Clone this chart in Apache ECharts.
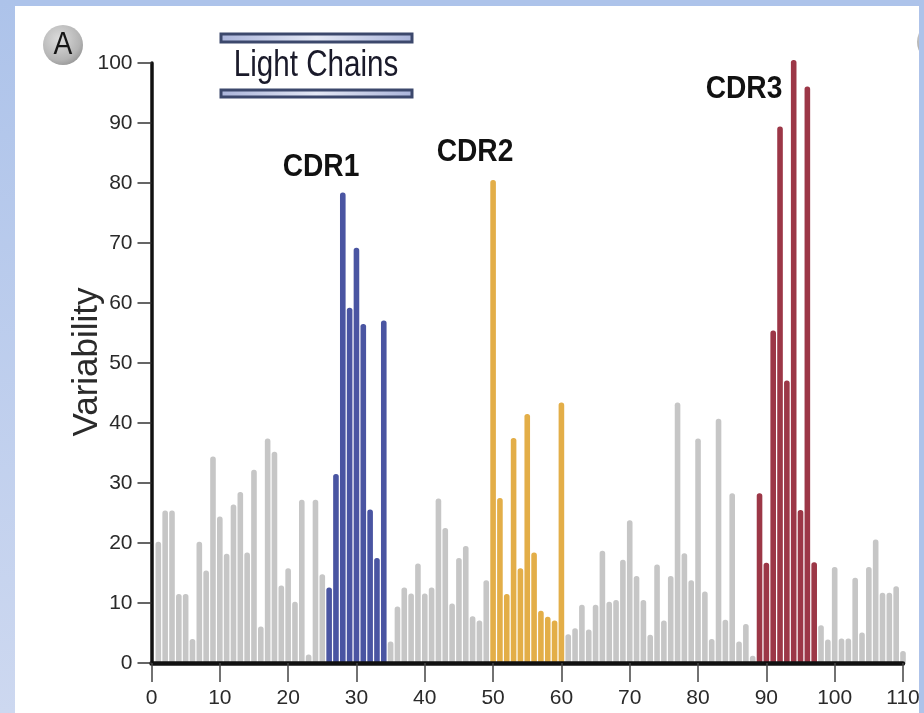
<!DOCTYPE html>
<html>
<head>
<meta charset="utf-8">
<script src="https://cdn.jsdelivr.net/npm/echarts@6/dist/echarts.min.js"></script>
<style>
html,body{margin:0;padding:0;background:#ffffff;}
#chart{width:924px;height:713px;}
</style>
</head>
<body>
<div id="chart"></div>
<script>
// Variability at residue positions 1..110
const variability = [
  20.2, 25.4, 25.4, 11.5, 11.5, 4.0, 20.2, 15.4, 34.4, 24.4,
  18.2, 26.4, 28.5, 18.4, 32.2, 6.1, 37.4, 35.2, 12.9, 15.8,
  10.2, 27.2, 1.4, 27.2, 14.8, 12.6, 31.5, 78.4, 59.2, 69.2,
  56.5, 25.6, 17.5, 57.1, 3.6, 9.4, 12.6, 11.6, 16.6, 11.6,
  12.6, 27.4, 22.5, 9.9, 17.5, 19.5, 7.8, 7.1, 13.8, 80.5,
  27.5, 11.5, 37.5, 15.8, 41.5, 18.4, 8.7, 7.7, 7.1, 43.4,
  4.8, 5.8, 9.7, 5.6, 9.7, 18.7, 10.2, 10.5, 17.2, 23.8,
  14.5, 10.5, 4.7, 16.4, 7.1, 14.5, 43.4, 18.3, 13.8, 37.4,
  11.9, 4.0, 40.7, 7.2, 28.3, 3.6, 6.5, 1.2, 28.3, 16.7,
  55.4, 89.4, 47.1, 100.5, 25.5, 96.1, 16.8, 6.3, 3.9, 16.0,
  4.1, 4.1, 14.2, 5.1, 16.0, 20.6, 11.7, 11.7, 12.8, 2.0
];
const cdr1 = [26, 34];
const cdr2 = [50, 60];
const cdr3 = [89, 97];
const xTicks = [0, 10, 20, 30, 40, 50, 60, 70, 80, 90, 100, 110];
const yTicks = [0, 10, 20, 30, 40, 50, 60, 70, 80, 90, 100];

const C_GRAY = '#c6c6c6', C_BLUE = '#4a55a2', C_ORANGE = '#e3ae48', C_RED = '#9c3747';
function colorFor(p) {
  if (p >= cdr1[0] && p <= cdr1[1]) return C_BLUE;
  if (p >= cdr2[0] && p <= cdr2[1]) return C_ORANGE;
  if (p >= cdr3[0] && p <= cdr3[1]) return C_RED;
  return C_GRAY;
}
const barData = variability.map((v, i) => ({
  value: [i + 1, v],
  itemStyle: { color: colorFor(i + 1) }
}));

const FONT = '"Liberation Sans", Arial, Helvetica, sans-serif';
const chart = echarts.init(document.getElementById('chart'), null, { renderer: 'canvas' });

const centered = { textAlign: 'center', textVerticalAlign: 'middle', align: 'center', verticalAlign: 'middle' };

chart.setOption({
  animation: false,
  backgroundColor: '#ffffff',
  grid: { left: 151.5, right: 21, top: 63, bottom: 50, containLabel: false },
  xAxis: {
    type: 'value', min: xTicks[0], max: xTicks[xTicks.length - 1], interval: 10, z: 10,
    axisLine: { show: true, onZero: false, lineStyle: { color: '#111', width: 4.5 } },
    axisTick: { show: true, length: 19, lineStyle: { color: '#444', width: 1.5 } },
    axisLabel: { color: '#2a2a2a', fontSize: 21, fontFamily: FONT, margin: 25 },
    splitLine: { show: false }
  },
  yAxis: {
    type: 'value', min: yTicks[0], max: yTicks[yTicks.length - 1], interval: 10, z: 10,
    axisLine: { show: true, lineStyle: { color: '#111', width: 3.5 } },
    axisTick: { show: true, length: 14, lineStyle: { color: '#333', width: 1.5 } },
    axisLabel: { color: '#2a2a2a', fontSize: 21, fontFamily: FONT, margin: 19 },
    splitLine: { show: false }
  },
  series: [{
    type: 'bar',
    data: barData,
    barWidth: 5.6,
    clip: false,
    itemStyle: { borderRadius: [2.6, 2.6, 0, 0] },
    z: 1
  }],
  graphic: [
    // blue frame strips
    { type: 'rect', z: 100, shape: { x: 0, y: 0, width: 924, height: 6 }, style: { fill: '#adc3ea' } },
    { type: 'rect', z: 100, shape: { x: 0, y: 0, width: 15, height: 713 },
      style: { fill: new echarts.graphic.LinearGradient(0, 0, 0, 1, [{ offset: 0, color: '#adc3ea' }, { offset: 1, color: '#cdd8f0' }]) } },
    // partial circle of the next panel
    { type: 'circle', z: 90, shape: { cx: 938, cy: 42, r: 21 },
      style: { fill: new echarts.graphic.RadialGradient(0.35, 0.35, 0.8, [{ offset: 0, color: '#e2e2e2' }, { offset: 1, color: '#8a8a8a' }]) } },
    { type: 'rect', z: 100, shape: { x: 919, y: 0, width: 5, height: 713 }, style: { fill: '#aec3ea' } },
    // panel letter A
    { type: 'circle', z: 50, shape: { cx: 63, cy: 45, r: 20 },
      style: { fill: new echarts.graphic.RadialGradient(0.4, 0.35, 0.75, [{ offset: 0, color: '#dcdcdc' }, { offset: 0.7, color: '#b4b4b4' }, { offset: 1, color: '#8e8e8e' }]) } },
    { type: 'text', z: 51, x: 63, y: 45, scaleX: 0.88,
      style: Object.assign({ text: 'A', fontSize: 32, fontFamily: FONT, fill: '#151515' }, centered) },
    // Light Chains box
    { type: 'rect', z: 50, shape: { x: 221, y: 34, width: 191, height: 8 },
      style: { fill: new echarts.graphic.LinearGradient(0, 0, 1, 0, [{ offset: 0, color: '#aab4da' }, { offset: 0.5, color: '#e4e8f5' }, { offset: 1, color: '#aab4da' }]), stroke: '#3c486c', lineWidth: 3 } },
    { type: 'rect', z: 50, shape: { x: 221, y: 90, width: 191, height: 7 },
      style: { fill: new echarts.graphic.LinearGradient(0, 0, 1, 0, [{ offset: 0, color: '#aab4da' }, { offset: 0.5, color: '#e4e8f5' }, { offset: 1, color: '#aab4da' }]), stroke: '#3c486c', lineWidth: 3 } },
    { type: 'text', z: 51, x: 316, y: 66, scaleX: 0.8,
      style: Object.assign({ text: 'Light Chains', fontSize: 37, fontFamily: FONT, fill: '#1a1a2a' }, centered) },
    // axis title
    { type: 'text', z: 51, x: 87, y: 362, rotation: Math.PI / 2,
      style: Object.assign({ text: 'Variability', fontSize: 35, fontFamily: FONT, fill: '#2a2a2a' }, centered) },
    // CDR labels
    { type: 'text', z: 51, x: 321, y: 167, scaleX: 0.88,
      style: Object.assign({ text: 'CDR1', fontSize: 32, fontWeight: 'bold', fontFamily: FONT, fill: '#111' }, centered) },
    { type: 'text', z: 51, x: 475, y: 152, scaleX: 0.88,
      style: Object.assign({ text: 'CDR2', fontSize: 32, fontWeight: 'bold', fontFamily: FONT, fill: '#111' }, centered) },
    { type: 'text', z: 51, x: 744, y: 89, scaleX: 0.88,
      style: Object.assign({ text: 'CDR3', fontSize: 32, fontWeight: 'bold', fontFamily: FONT, fill: '#111' }, centered) }
  ]
});
</script>
</body>
</html>
